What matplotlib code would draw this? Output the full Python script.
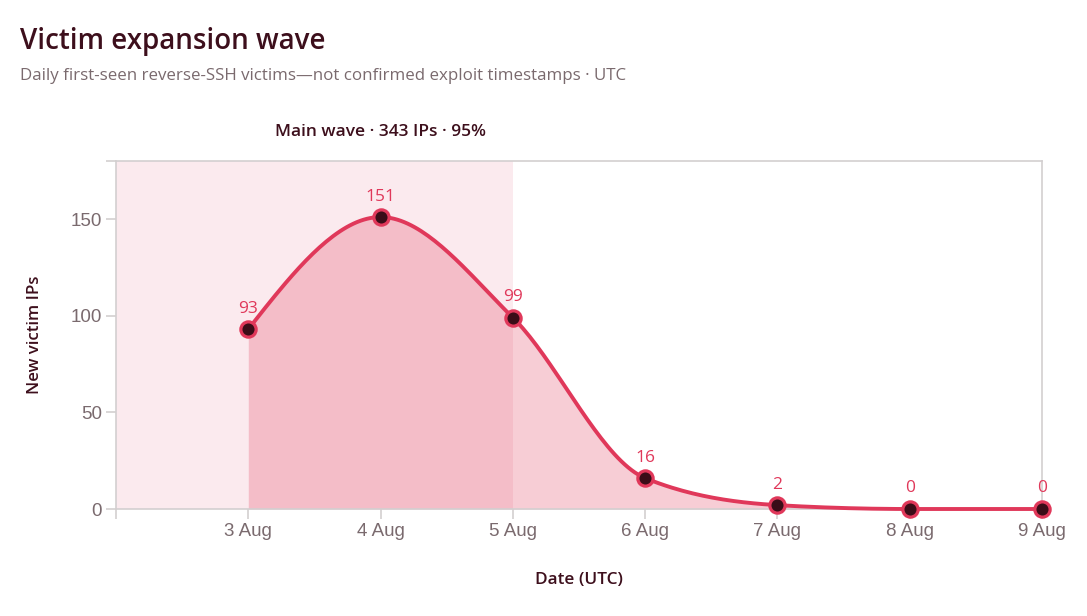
import numpy as np
import matplotlib.pyplot as plt

# daily first-seen victims (day of August)
days = [3, 4, 5, 6, 7, 8, 9]
victims = [93, 151, 99, 16, 2, 0, 0]
tick_days = [2, 3, 4, 5, 6, 7, 8, 9]
tick_labels = ["", "3 Aug", "4 Aug", "5 Aug", "6 Aug", "7 Aug", "8 Aug", "9 Aug"]
wave_start, wave_end = 2, 5
wave_label = "Main wave · 343 IPs · 95%"

red = "#e0385a"
dark = "#3d0f1c"
grey = "#7a6a6e"
axis_col = "#d3cfd0"


def monotone(x, y, n=40):
    # monotone cubic (same idea as d3.curveMonotoneX)
    x = np.asarray(x, float)
    y = np.asarray(y, float)
    h = np.diff(x)
    s = np.diff(y) / h
    t = np.zeros_like(y)
    for i in range(1, len(y) - 1):
        p = (s[i - 1] * h[i] + s[i] * h[i - 1]) / (h[i - 1] + h[i])
        t[i] = (np.sign(s[i - 1]) + np.sign(s[i])) * min(abs(s[i - 1]), abs(s[i]), 0.5 * abs(p))
    t[0] = (3 * s[0] - t[1]) / 2
    t[-1] = (3 * s[-1] - t[-2]) / 2
    xs, ys = [], []
    for i in range(len(h)):
        u = np.linspace(0, 1, n)
        h00 = 2 * u**3 - 3 * u**2 + 1
        h10 = u**3 - 2 * u**2 + u
        h01 = -2 * u**3 + 3 * u**2
        h11 = u**3 - u**2
        xs.append(x[i] + u * h[i])
        ys.append(h00 * y[i] + h10 * h[i] * t[i] + h01 * y[i + 1] + h11 * h[i] * t[i + 1])
    return np.concatenate(xs), np.concatenate(ys)


fig = plt.figure(figsize=(10.87, 6.16), dpi=100)
ax = fig.add_axes([116 / 1087, 107 / 616, 926 / 1087, 348 / 616])

ax.axvspan(wave_start, wave_end, color=red, alpha=0.1, lw=0, zorder=0)

xs, ys = monotone(days, victims)
ax.fill_between(xs, 0, ys, color=red, alpha=0.25, lw=0, zorder=1)
ax.plot(xs, ys, color=red, lw=2.8, zorder=3, solid_capstyle="round", clip_on=False)
ax.plot(days, victims, "o", ms=11, mfc="#3a0d18", mec=red, mew=2.3, zorder=4, clip_on=False)

for d, v in zip(days, victims):
    ax.annotate(str(v), (d, v), xytext=(0, 9), textcoords="offset points",
                ha="center", va="bottom", color=red, fontsize=12.5,
                family="Open Sans", fontweight="medium", zorder=5)

ax.text((wave_start + wave_end) / 2 + 0.5, 1.06, wave_label, transform=ax.get_xaxis_transform(),
        ha="center", va="bottom", fontsize=12.5, color=dark, family="Open Sans",
        fontweight="semibold")

ax.set_xlim(2, 9)
ax.set_ylim(0, 180)
ax.set_xticks(tick_days)
ax.set_xticklabels(tick_labels)
ax.set_yticks([0, 50, 100, 150, 180])
ax.set_yticklabels(["0", "50", "100", "150", ""])
for sp in ax.spines.values():
    sp.set_color(axis_col)
    sp.set_linewidth(1.2)
ax.tick_params(colors=axis_col, labelcolor=grey, labelsize=13.5, length=7, width=1.2, pad=3)
for lab in ax.get_xticklabels() + ax.get_yticklabels():
    lab.set_family("Liberation Sans")

ax.set_xlabel("Date (UTC)", fontsize=12.4, color=dark, family="Open Sans",
              fontweight="semibold", labelpad=23)
ax.set_ylabel("New victim IPs", fontsize=12.2, color=dark, family="Open Sans",
              fontweight="semibold", labelpad=20)

fig.text(20 / 1087, 1 - 41 / 616, "Victim expansion wave", fontsize=20, color=dark,
         family="Open Sans", fontweight="semibold", va="center")
fig.text(20 / 1087, 1 - 76 / 616,
         "Daily first-seen reverse-SSH victims\u2014not confirmed exploit timestamps · UTC",
         fontsize=12.2, color=grey, family="Open Sans", va="center")

fig.savefig("out.png", dpi=100)
